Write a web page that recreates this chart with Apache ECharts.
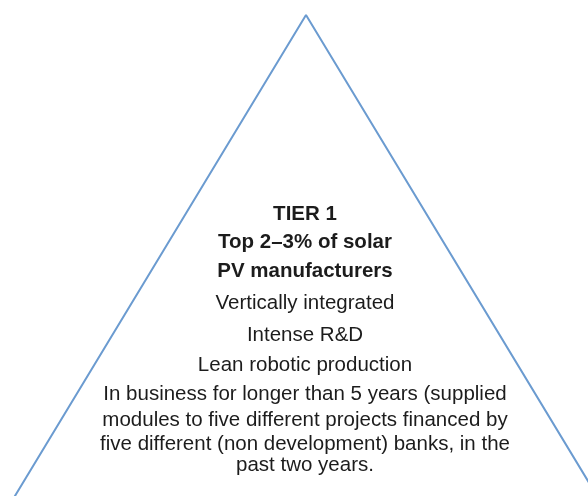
<!DOCTYPE html>
<html lang="en" style="height: 100%">
<head>
  <meta charset="utf-8">
</head>
<body style="height: 100%; margin: 0; background: #fff">
  <div id="container" style="width: 588px; height: 496px"></div>

  <script type="text/javascript" src="https://cdn.jsdelivr.net/npm/echarts@6/dist/echarts.min.js"></script>

  <script type="text/javascript">
    // pyramid outline (apex, then the two sides running off the bottom edge)
    var pyramidX = [-48, 306, 660];
    var pyramidY = [600, 15, 600];

    // text inside the pyramid, top to bottom
    var headLines = ['TIER 1', 'Top 2\u20133% of solar', 'PV manufacturers'];
    var bodyLines = [
      'Vertically integrated',
      'Intense R&D',
      'Lean robotic production',
      'In business for longer than 5 years (supplied',
      'modules to five different projects financed by',
      'five different (non development) banks, in the',
      'past two years.'
    ];

    var dom = document.getElementById('container');
    var myChart = echarts.init(dom, null, { renderer: 'canvas' });

    var outline = pyramidX.map(function (x, i) { return [x, pyramidY[i]]; });

    // baselines of the text lines, as laid out in the original graphic
    var baselines = [221.5, 250, 278.5, 311, 342.5, 373, 401.5, 428, 452, 473];
    var fontSize = 20.5;
    var texts = headLines.concat(bodyLines).map(function (t, i) {
      var bold = i < headLines.length;
      return {
        type: 'text',
        x: 305,
        y: baselines[i] - fontSize * 0.85,
        style: {
          text: t,
          x: 0,
          y: 0,
          align: 'center',
          verticalAlign: 'top',
          lineHeight: fontSize,
          fill: '#1c1c1c',
          font: (bold ? 'bold ' : '') + fontSize + 'px "Liberation Sans", Arial, sans-serif'
        }
      };
    });

    var option = {
      backgroundColor: '#fff',
      animation: false,
      grid: { left: 0, right: 0, top: 0, bottom: 0 },
      xAxis: { type: 'value', min: 0, max: 588, show: false },
      yAxis: { type: 'value', min: 0, max: 496, inverse: true, show: false },
      series: [
        {
          type: 'line',
          data: outline,
          symbol: 'none',
          clip: true,
          lineStyle: { color: '#6b9bd0', width: 2 }
        }
      ],
      graphic: texts
    };

    myChart.setOption(option);
    window.addEventListener('resize', myChart.resize);
  </script>
</body>
</html>
